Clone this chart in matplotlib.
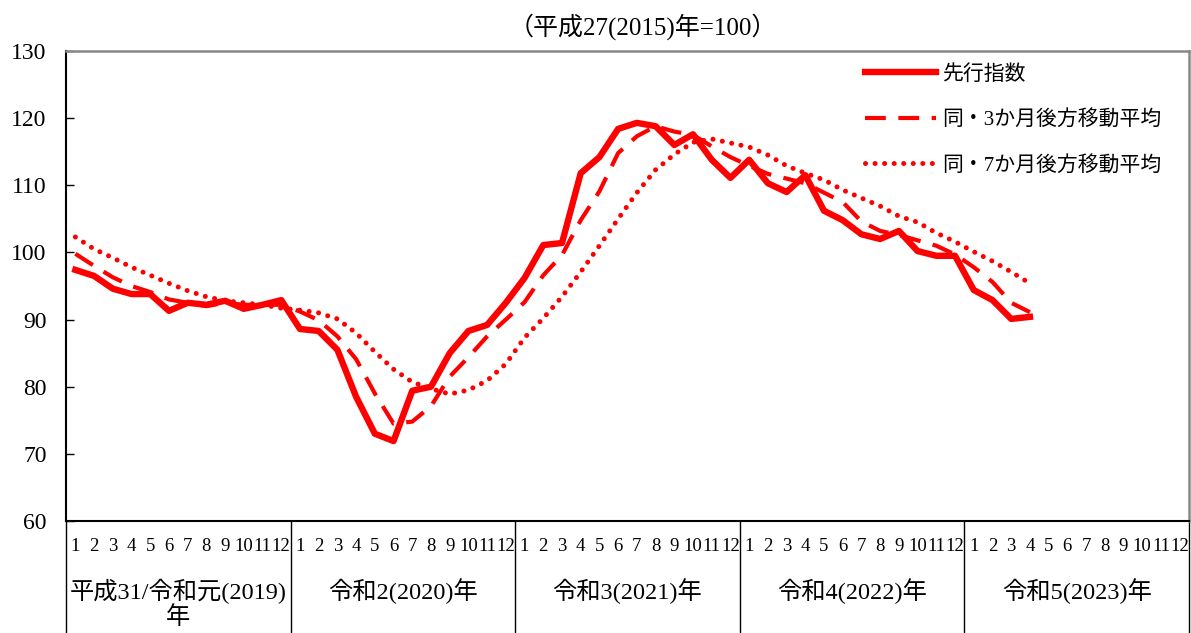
import matplotlib
matplotlib.use("Agg")
import matplotlib.pyplot as plt
import matplotlib.transforms as mtransforms

plt.rcParams['font.family'] = ['Liberation Serif', 'Noto Sans CJK JP', 'DejaVu Sans']

# 先行指数 (2019/1 - 2023/4)
leading = [97.4, 96.5, 94.6, 93.8, 93.8, 91.3, 92.5, 92.2, 92.8, 91.6, 92.2, 92.9,
           88.6, 88.3, 85.5, 78.5, 73.0, 71.9, 79.4, 80.0, 85.0, 88.3, 89.2, 92.5,
           96.2, 101.1, 101.4, 111.8, 114.2, 118.4, 119.3, 118.8, 116.0, 117.6, 113.8, 111.1,
           113.8, 110.3, 109.0, 111.5, 106.2, 104.8, 102.7, 102.0, 103.2, 100.2, 99.5, 99.5,
           94.4, 92.9, 90.1, 90.4]
# 同・3か月後方移動平均
ma3 = [99.8, 98.0, 96.3, 95.0, 94.1, 93.0, 92.5, 92.0, 92.5, 92.2, 92.2, 92.2,
       91.2, 89.9, 87.5, 84.1, 79.0, 74.5, 74.8, 77.1, 81.5, 84.4, 87.5, 90.0,
       92.6, 96.6, 99.6, 104.8, 109.1, 114.8, 117.3, 118.8, 118.0, 117.5, 115.8, 114.2,
       112.9, 111.7, 111.0, 110.3, 108.9, 107.5, 104.6, 103.2, 102.6, 101.8, 101.0, 99.7,
       97.8, 95.6, 92.5, 91.1]
# 同・7か月後方移動平均
ma7 = [102.3, 100.5, 99.2, 97.8, 96.6, 95.4, 94.3, 93.4, 92.8, 92.5, 92.2, 91.7,
       91.4, 91.0, 90.1, 88.0, 85.2, 82.6, 80.7, 79.7, 78.9, 79.5, 80.9, 83.4,
       87.3, 90.2, 93.4, 97.1, 101.0, 105.0, 108.9, 112.3, 114.6, 116.4, 116.9, 116.3,
       115.7, 114.5, 112.9, 111.8, 110.8, 109.3, 108.1, 106.9, 105.4, 104.5, 102.9, 101.6,
       100.1, 98.7, 97.1, 95.4]

months = [str(m) for m in range(1, 13)] * 5
years = ["平成31/令和元(2019)\n年", "令和2(2020)年", "令和3(2021)年", "令和4(2022)年", "令和5(2023)年"]
names = ["先行指数", "同・3か月後方移動平均", "同・7か月後方移動平均"]

red = "#ff0000"
fig = plt.figure(figsize=(11.91, 6.33), dpi=100)
ax = fig.add_axes([66 / 1191, 1 - 521 / 633, (1189 - 66) / 1191, (521 - 51) / 633])

x = list(range(len(leading)))
ax.plot(x, leading, color=red, lw=4.6, solid_joinstyle='round', label=names[0])
ax.plot(x, ma3, color=red, lw=3, linestyle=(0, (5, 3)), label=names[1])
ax.plot(x, ma7, color=red, lw=3.6, linestyle=(0, (0.01, 1.9)), dash_capstyle='round', label=names[2])

ax.set_xlim(-0.5, 59.5)
ax.set_ylim(60, 130)
ax.set_yticks(range(60, 131, 10))
ax.tick_params(axis='y', direction='in', length=6, width=1, labelsize=17, pad=14)
ax.set_xticks(range(60))
ax.set_xticklabels(months, fontsize=13.5)
ax.tick_params(axis='x', length=0, pad=12)

for s in ['left', 'bottom']:
    ax.spines[s].set_color('black')
    ax.spines[s].set_linewidth(1.5)
for s in ['top', 'right']:
    ax.spines[s].set_color('#888888')
    ax.spines[s].set_linewidth(1.8)

# year band below the axis
trans = mtransforms.blended_transform_factory(ax.transData, ax.transAxes)
for b in [-0.5, 11.5, 23.5, 35.5, 47.5, 59.5]:
    ax.plot([b, b], [0, -0.25], color='black', lw=1, transform=trans, clip_on=False)
for i, lab in enumerate(years):
    ax.text(i * 12 + 5.5, -0.122, lab, transform=trans, ha='center', va='top',
            fontsize=17.5, linespacing=1.15)

fig.text(643 / 1191, 1 - 27 / 633, "（平成27(2015)年=100）", ha='center', va='center', fontsize=18)

leg = ax.legend(loc='upper left', bbox_to_anchor=(846 / 1191, 1 - 46 / 633),
                bbox_transform=fig.transFigure, frameon=False, fontsize=15,
                handlelength=3.4, handletextpad=0.3, labelspacing=1.22)
for t in leg.get_texts():
    t.set_color('black')

fig.savefig("out.png", dpi=100)
